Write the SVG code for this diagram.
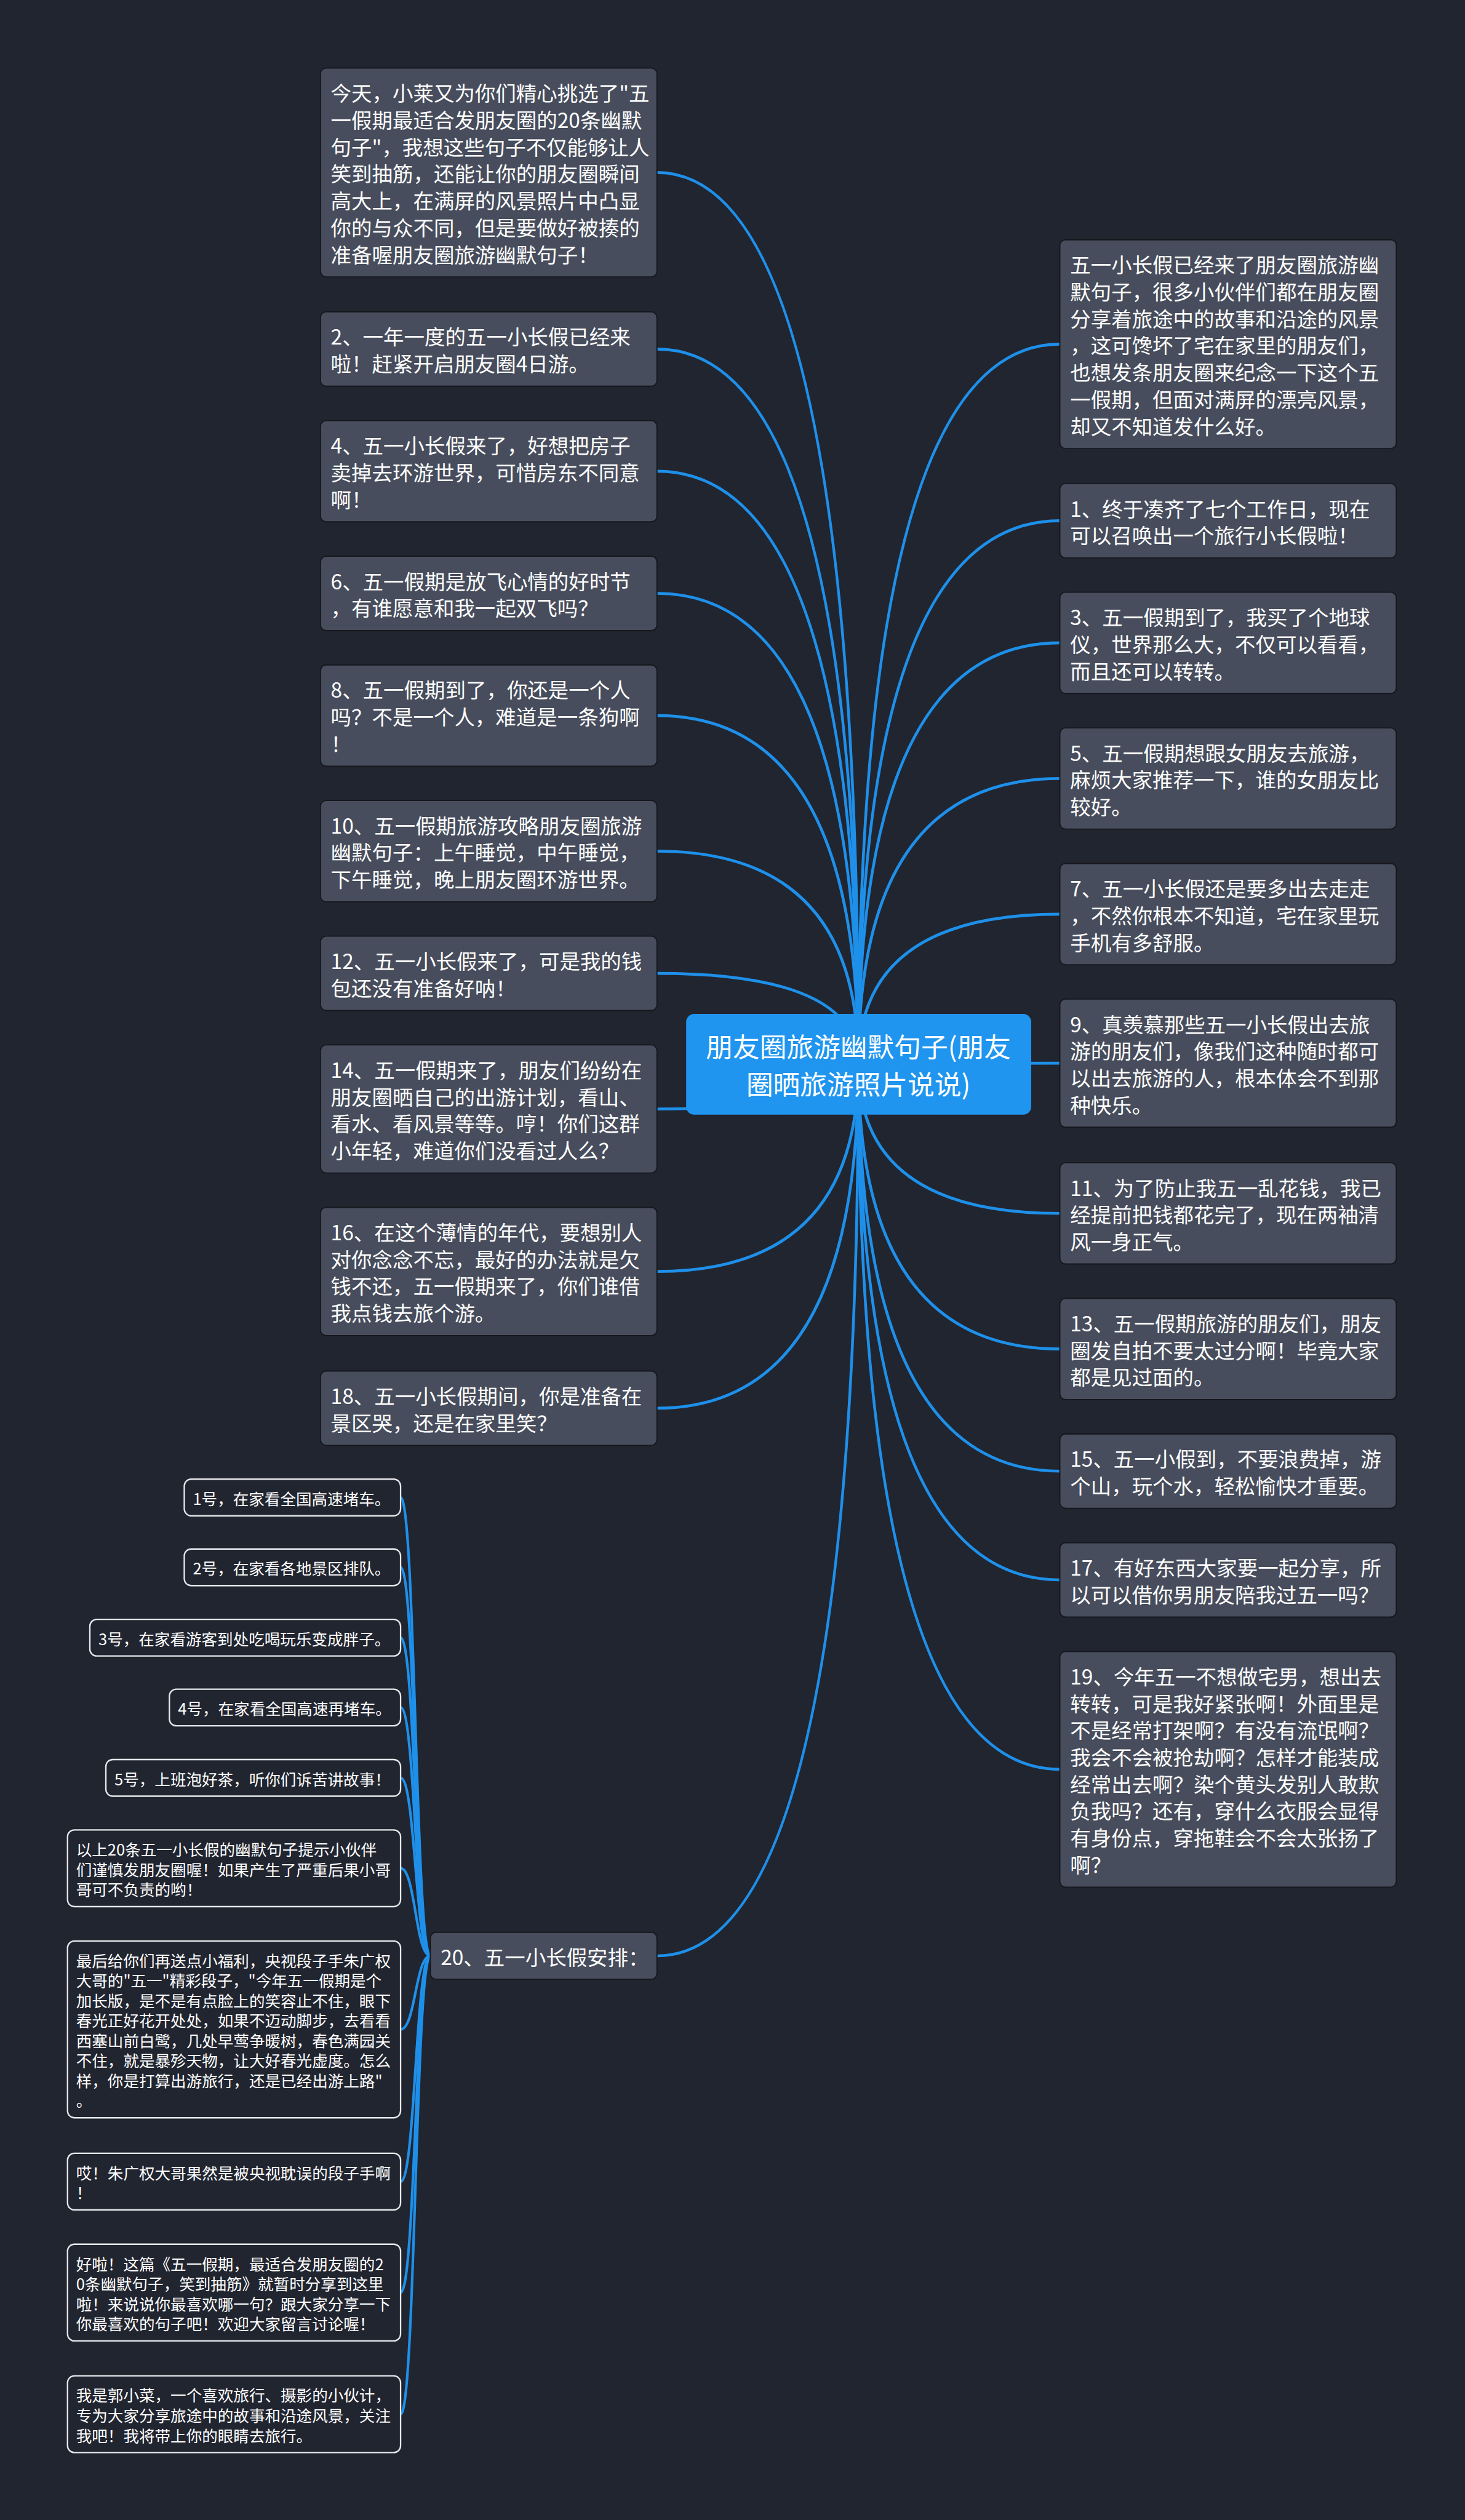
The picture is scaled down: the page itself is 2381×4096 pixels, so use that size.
<svg xmlns="http://www.w3.org/2000/svg" width="2381" height="4096" viewBox="0 0 2381 4096">
<style>
.bg{fill:#212530}
.n rect{fill:#474d5c;stroke:#15171c;stroke-width:2}
.c rect{fill:#212530;stroke:#e6e8ec;stroke-width:2.5}
.root rect{fill:#1f95ef}
text{font-family:"Noto Sans CJK SC","Noto Sans",sans-serif;fill:#ffffff;dominant-baseline:central}
.n text{font-size:36px}
.c text{font-size:27.5px}
.root text{font-size:47px;text-anchor:middle}
#links path{fill:none;stroke:#1e90ea;stroke-width:5;stroke-linecap:round}
#sublinks path{fill:none;stroke:#1e90ea;stroke-width:4.5;stroke-linecap:round}
</style>
<rect class="bg" x="0" y="0" width="2381" height="4096"/>
<g transform="scale(0.93008)">
<g id="links">
<path d="M1500 1860 Q1500 301.5 1148 301.5"/>
<path d="M1500 1860 Q1500 610 1148 610"/>
<path d="M1500 1860 Q1500 823.5 1148 823.5"/>
<path d="M1500 1860 Q1500 1037 1148 1037"/>
<path d="M1500 1860 Q1500 1250.5 1148 1250.5"/>
<path d="M1500 1860 Q1500 1487.5 1148 1487.5"/>
<path d="M1500 1860 Q1500 1701 1148 1701"/>
<path d="M1500 1860 Q1500 1938 1148 1938"/>
<path d="M1500 1860 Q1500 2222 1148 2222"/>
<path d="M1500 1860 Q1500 2461 1148 2461"/>
<path d="M1500 1860 Q1500 3418 1148 3418"/>
<path d="M1500 1860 Q1500 601.5 1852 601.5"/>
<path d="M1500 1860 Q1500 910 1852 910"/>
<path d="M1500 1860 Q1500 1123.5 1852 1123.5"/>
<path d="M1500 1860 Q1500 1360.5 1852 1360.5"/>
<path d="M1500 1860 Q1500 1597.5 1852 1597.5"/>
<path d="M1500 1860 Q1500 1858 1852 1858"/>
<path d="M1500 1860 Q1500 2120.5 1852 2120.5"/>
<path d="M1500 1860 Q1500 2357.5 1852 2357.5"/>
<path d="M1500 1860 Q1500 2571 1852 2571"/>
<path d="M1500 1860 Q1500 2761 1852 2761"/>
<path d="M1500 1860 Q1500 3092 1852 3092"/>
</g>
<g id="sublinks">
<path d="M752 3418 C726 3418 726 2617 700 2617"/>
<path d="M752 3418 C726 3418 726 2739 700 2739"/>
<path d="M752 3418 C726 3418 726 2862 700 2862"/>
<path d="M752 3418 C726 3418 726 2984 700 2984"/>
<path d="M752 3418 C726 3418 726 3107 700 3107"/>
<path d="M752 3418 C726 3418 726 3265 700 3265"/>
<path d="M752 3418 C726 3418 726 3546.5 700 3546.5"/>
<path d="M752 3418 C726 3418 726 3812.5 700 3812.5"/>
<path d="M752 3418 C726 3418 726 4006.5 700 4006.5"/>
<path d="M752 3418 C726 3418 726 4219 700 4219"/>
</g>
<g id="root" class="root">
<rect x="1199" y="1772" width="603" height="176" rx="14"/>
<text><tspan x="1500" y="1827">朋友圈旅游幽默句子(朋友</tspan><tspan x="1500" y="1892">圈晒旅游照片说说)</tspan></text>
</g>
<g id="nA" class="n"><rect x="560" y="119" width="588" height="365" rx="10"/>
<text><tspan x="578" y="160.5">今天，小莱又为你们精心挑选了"五</tspan><tspan x="578" y="207.5">一假期最适合发朋友圈的20条幽默</tspan><tspan x="578" y="254.5">句子"，我想这些句子不仅能够让人</tspan><tspan x="578" y="301.5">笑到抽筋，还能让你的朋友圈瞬间</tspan><tspan x="578" y="348.5">高大上，在满屏的风景照片中凸显</tspan><tspan x="578" y="395.5">你的与众不同，但是要做好被揍的</tspan><tspan x="578" y="442.5">准备喔朋友圈旅游幽默句子！</tspan></text></g>
<g id="n2" class="n"><rect x="560" y="545" width="588" height="130" rx="10"/>
<text><tspan x="578" y="586.5">2、一年一度的五一小长假已经来</tspan><tspan x="578" y="633.5">啦！赶紧开启朋友圈4日游。</tspan></text></g>
<g id="n4" class="n"><rect x="560" y="735" width="588" height="177" rx="10"/>
<text><tspan x="578" y="776.5">4、五一小长假来了，好想把房子</tspan><tspan x="578" y="823.5">卖掉去环游世界，可惜房东不同意</tspan><tspan x="578" y="870.5">啊！</tspan></text></g>
<g id="n6" class="n"><rect x="560" y="972" width="588" height="130" rx="10"/>
<text><tspan x="578" y="1013.5">6、五一假期是放飞心情的好时节</tspan><tspan x="578" y="1060.5">，有谁愿意和我一起双飞吗？</tspan></text></g>
<g id="n8" class="n"><rect x="560" y="1162" width="588" height="177" rx="10"/>
<text><tspan x="578" y="1203.5">8、五一假期到了，你还是一个人</tspan><tspan x="578" y="1250.5">吗？不是一个人，难道是一条狗啊</tspan><tspan x="578" y="1297.5">！</tspan></text></g>
<g id="n10" class="n"><rect x="560" y="1399" width="588" height="177" rx="10"/>
<text><tspan x="578" y="1440.5">10、五一假期旅游攻略朋友圈旅游</tspan><tspan x="578" y="1487.5">幽默句子：上午睡觉，中午睡觉，</tspan><tspan x="578" y="1534.5">下午睡觉，晚上朋友圈环游世界。</tspan></text></g>
<g id="n12" class="n"><rect x="560" y="1636" width="588" height="130" rx="10"/>
<text><tspan x="578" y="1677.5">12、五一小长假来了，可是我的钱</tspan><tspan x="578" y="1724.5">包还没有准备好呐！</tspan></text></g>
<g id="n14" class="n"><rect x="560" y="1826" width="588" height="224" rx="10"/>
<text><tspan x="578" y="1867.5">14、五一假期来了，朋友们纷纷在</tspan><tspan x="578" y="1914.5">朋友圈晒自己的出游计划，看山、</tspan><tspan x="578" y="1961.5">看水、看风景等等。哼！你们这群</tspan><tspan x="578" y="2008.5">小年轻，难道你们没看过人么？</tspan></text></g>
<g id="n16" class="n"><rect x="560" y="2110" width="588" height="224" rx="10"/>
<text><tspan x="578" y="2151.5">16、在这个薄情的年代，要想别人</tspan><tspan x="578" y="2198.5">对你念念不忘，最好的办法就是欠</tspan><tspan x="578" y="2245.5">钱不还，五一假期来了，你们谁借</tspan><tspan x="578" y="2292.5">我点钱去旅个游。</tspan></text></g>
<g id="n18" class="n"><rect x="560" y="2396" width="588" height="130" rx="10"/>
<text><tspan x="578" y="2437.5">18、五一小长假期间，你是准备在</tspan><tspan x="578" y="2484.5">景区哭，还是在家里笑？</tspan></text></g>
<g id="n20" class="n"><rect x="752" y="3377" width="396" height="82" rx="10"/>
<text><tspan x="770" y="3418">20、五一小长假安排：</tspan></text></g>
<g id="r0" class="n"><rect x="1852" y="419" width="588" height="365" rx="10"/>
<text><tspan x="1870" y="460.5">五一小长假已经来了朋友圈旅游幽</tspan><tspan x="1870" y="507.5">默句子，很多小伙伴们都在朋友圈</tspan><tspan x="1870" y="554.5">分享着旅途中的故事和沿途的风景</tspan><tspan x="1870" y="601.5">，这可馋坏了宅在家里的朋友们，</tspan><tspan x="1870" y="648.5">也想发条朋友圈来纪念一下这个五</tspan><tspan x="1870" y="695.5">一假期，但面对满屏的漂亮风景，</tspan><tspan x="1870" y="742.5">却又不知道发什么好。</tspan></text></g>
<g id="r1" class="n"><rect x="1852" y="845" width="588" height="130" rx="10"/>
<text><tspan x="1870" y="886.5">1、终于凑齐了七个工作日，现在</tspan><tspan x="1870" y="933.5">可以召唤出一个旅行小长假啦！</tspan></text></g>
<g id="r3" class="n"><rect x="1852" y="1035" width="588" height="177" rx="10"/>
<text><tspan x="1870" y="1076.5">3、五一假期到了，我买了个地球</tspan><tspan x="1870" y="1123.5">仪，世界那么大，不仅可以看看，</tspan><tspan x="1870" y="1170.5">而且还可以转转。</tspan></text></g>
<g id="r5" class="n"><rect x="1852" y="1272" width="588" height="177" rx="10"/>
<text><tspan x="1870" y="1313.5">5、五一假期想跟女朋友去旅游，</tspan><tspan x="1870" y="1360.5">麻烦大家推荐一下，谁的女朋友比</tspan><tspan x="1870" y="1407.5">较好。</tspan></text></g>
<g id="r7" class="n"><rect x="1852" y="1509" width="588" height="177" rx="10"/>
<text><tspan x="1870" y="1550.5">7、五一小长假还是要多出去走走</tspan><tspan x="1870" y="1597.5">，不然你根本不知道，宅在家里玩</tspan><tspan x="1870" y="1644.5">手机有多舒服。</tspan></text></g>
<g id="r9" class="n"><rect x="1852" y="1746" width="588" height="224" rx="10"/>
<text><tspan x="1870" y="1787.5">9、真羡慕那些五一小长假出去旅</tspan><tspan x="1870" y="1834.5">游的朋友们，像我们这种随时都可</tspan><tspan x="1870" y="1881.5">以出去旅游的人，根本体会不到那</tspan><tspan x="1870" y="1928.5">种快乐。</tspan></text></g>
<g id="r11" class="n"><rect x="1852" y="2032" width="588" height="177" rx="10"/>
<text><tspan x="1870" y="2073.5">11、为了防止我五一乱花钱，我已</tspan><tspan x="1870" y="2120.5">经提前把钱都花完了，现在两袖清</tspan><tspan x="1870" y="2167.5">风一身正气。</tspan></text></g>
<g id="r13" class="n"><rect x="1852" y="2269" width="588" height="177" rx="10"/>
<text><tspan x="1870" y="2310.5">13、五一假期旅游的朋友们，朋友</tspan><tspan x="1870" y="2357.5">圈发自拍不要太过分啊！毕竟大家</tspan><tspan x="1870" y="2404.5">都是见过面的。</tspan></text></g>
<g id="r15" class="n"><rect x="1852" y="2506" width="588" height="130" rx="10"/>
<text><tspan x="1870" y="2547.5">15、五一小假到，不要浪费掉，游</tspan><tspan x="1870" y="2594.5">个山，玩个水，轻松愉快才重要。</tspan></text></g>
<g id="r17" class="n"><rect x="1852" y="2696" width="588" height="130" rx="10"/>
<text><tspan x="1870" y="2737.5">17、有好东西大家要一起分享，所</tspan><tspan x="1870" y="2784.5">以可以借你男朋友陪我过五一吗？</tspan></text></g>
<g id="r19" class="n"><rect x="1852" y="2886" width="588" height="412" rx="10"/>
<text><tspan x="1870" y="2927.5">19、今年五一不想做宅男，想出去</tspan><tspan x="1870" y="2974.5">转转，可是我好紧张啊！外面里是</tspan><tspan x="1870" y="3021.5">不是经常打架啊？有没有流氓啊？</tspan><tspan x="1870" y="3068.5">我会不会被抢劫啊？怎样才能装成</tspan><tspan x="1870" y="3115.5">经常出去啊？染个黄头发别人敢欺</tspan><tspan x="1870" y="3162.5">负我吗？还有，穿什么衣服会显得</tspan><tspan x="1870" y="3209.5">有身份点，穿拖鞋会不会太张扬了</tspan><tspan x="1870" y="3256.5">啊？</tspan></text></g>
<g id="c1" class="c"><rect x="322" y="2585" width="378" height="64" rx="12"/>
<text><tspan x="337" y="2617">1号，在家看全国高速堵车。</tspan></text></g>
<g id="c2" class="c"><rect x="322" y="2707" width="378" height="64" rx="12"/>
<text><tspan x="337" y="2739">2号，在家看各地景区排队。</tspan></text></g>
<g id="c3" class="c"><rect x="157" y="2830" width="543" height="64" rx="12"/>
<text><tspan x="172" y="2862">3号，在家看游客到处吃喝玩乐变成胖子。</tspan></text></g>
<g id="c4" class="c"><rect x="296" y="2952" width="404" height="64" rx="12"/>
<text><tspan x="311" y="2984">4号，在家看全国高速再堵车。</tspan></text></g>
<g id="c5" class="c"><rect x="185" y="3075" width="515" height="64" rx="12"/>
<text><tspan x="200" y="3107">5号，上班泡好茶，听你们诉苦讲故事！</tspan></text></g>
<g id="c6" class="c"><rect x="118" y="3198" width="582" height="134" rx="12"/>
<text><tspan x="133" y="3230">以上20条五一小长假的幽默句子提示小伙伴</tspan><tspan x="133" y="3265">们谨慎发朋友圈喔！如果产生了严重后果小哥</tspan><tspan x="133" y="3300">哥可不负责的哟！</tspan></text></g>
<g id="c7" class="c"><rect x="118" y="3392" width="582" height="309" rx="12"/>
<text><tspan x="133" y="3424">最后给你们再送点小福利，央视段子手朱广权</tspan><tspan x="133" y="3459">大哥的"五一"精彩段子，"今年五一假期是个</tspan><tspan x="133" y="3494">加长版，是不是有点脸上的笑容止不住，眼下</tspan><tspan x="133" y="3529">春光正好花开处处，如果不迈动脚步，去看看</tspan><tspan x="133" y="3564">西塞山前白鹭，几处早莺争暖树，春色满园关</tspan><tspan x="133" y="3599">不住，就是暴殄天物，让大好春光虚度。怎么</tspan><tspan x="133" y="3634">样，你是打算出游旅行，还是已经出游上路"</tspan><tspan x="133" y="3669">。</tspan></text></g>
<g id="c8" class="c"><rect x="118" y="3763" width="582" height="99" rx="12"/>
<text><tspan x="133" y="3795">哎！朱广权大哥果然是被央视耽误的段子手啊</tspan><tspan x="133" y="3830">！</tspan></text></g>
<g id="c9" class="c"><rect x="118" y="3922" width="582" height="169" rx="12"/>
<text><tspan x="133" y="3954">好啦！这篇《五一假期，最适合发朋友圈的2</tspan><tspan x="133" y="3989">0条幽默句子，笑到抽筋》就暂时分享到这里</tspan><tspan x="133" y="4024">啦！来说说你最喜欢哪一句？跟大家分享一下</tspan><tspan x="133" y="4059">你最喜欢的句子吧！欢迎大家留言讨论喔！</tspan></text></g>
<g id="c10" class="c"><rect x="118" y="4152" width="582" height="134" rx="12"/>
<text><tspan x="133" y="4184">我是郭小菜，一个喜欢旅行、摄影的小伙计，</tspan><tspan x="133" y="4219">专为大家分享旅途中的故事和沿途风景，关注</tspan><tspan x="133" y="4254">我吧！我将带上你的眼睛去旅行。</tspan></text></g>
</g>
</svg>
